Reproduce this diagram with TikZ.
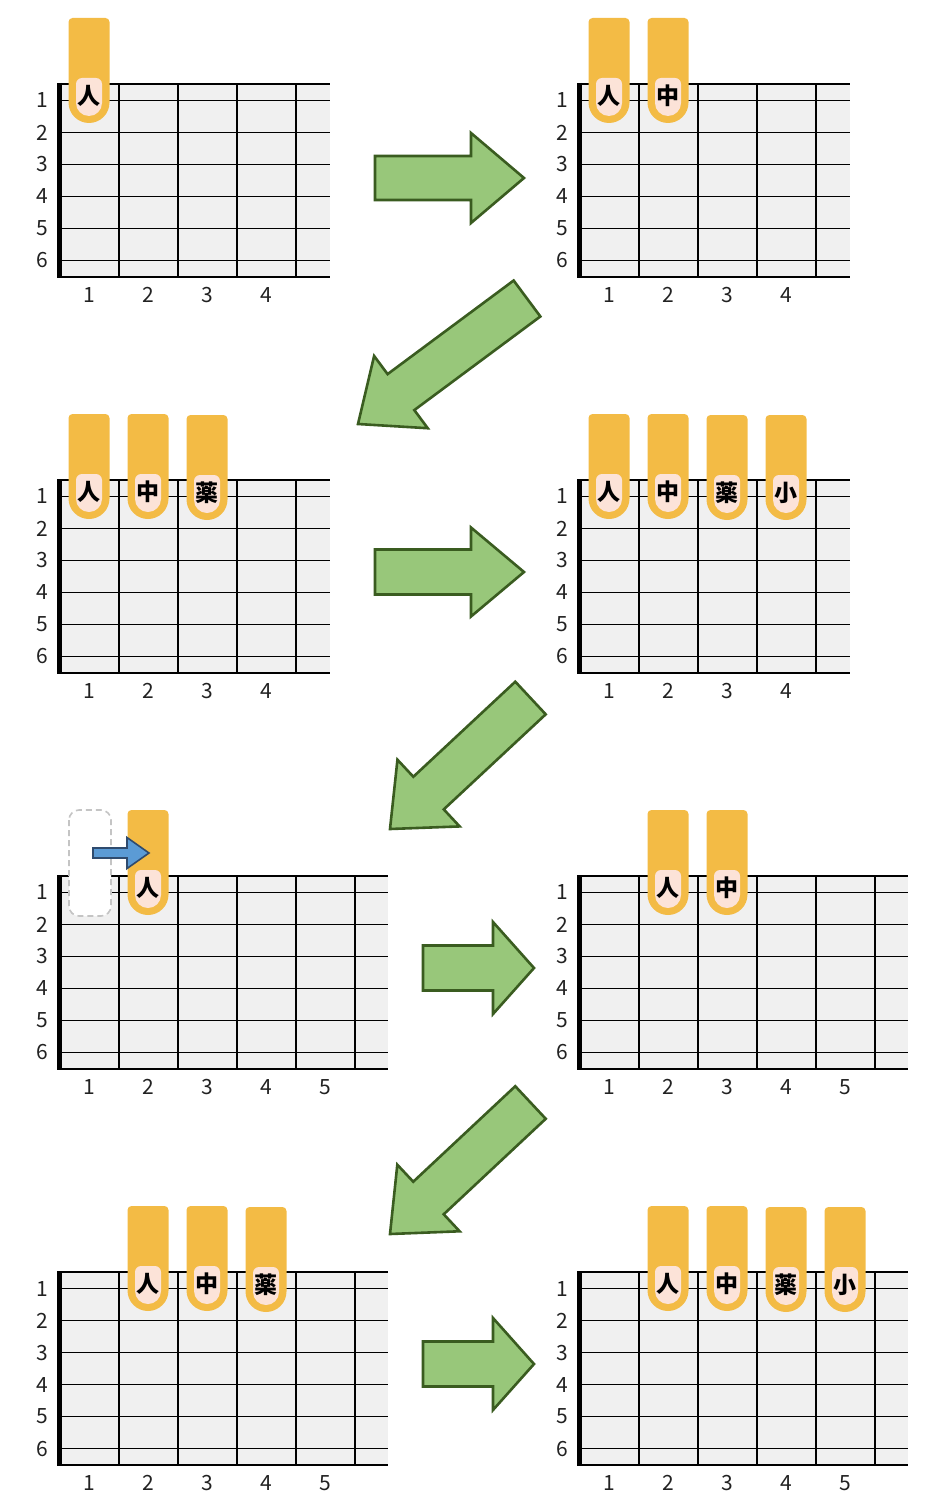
\documentclass[tikz,border=0pt]{standalone}
\usepackage{fontspec}
\newfontfamily\cjk{Noto Sans CJK JP}
\usetikzlibrary{calc}
\definecolor{gridbg}{HTML}{F0F0F0}
\definecolor{fingc}{HTML}{F3BB45}
\definecolor{nailc}{HTML}{FCE3D8}
\definecolor{arrfill}{HTML}{98C77A}
\definecolor{arrline}{HTML}{3A5C20}
\definecolor{bluef}{HTML}{5B9BD5}
\definecolor{bluel}{HTML}{2F4B6E}
\definecolor{ghostc}{HTML}{C4C4C4}
\definecolor{txtc}{HTML}{222222}
\tikzset{
  strline/.style={line width=1.3pt,black},
  thickstr/.style={line width=1.9pt,black},
  fretline/.style={line width=2pt,black},
  topline/.style={line width=2pt,black},
  botline/.style={line width=2.4pt,black},
  nutline/.style={line width=5pt,black},
  lbl/.style={inner sep=0pt,text=txtc,font=\cjk\fontsize{21}{21}\selectfont},
  fl/.style={inner sep=0pt,text=black,font=\cjk\bfseries\fontsize{23}{23}\selectfont},
  greenarr/.style={fill=arrfill,draw=arrline,line width=2.6pt,line join=miter},
  bluearr/.style={fill=bluef,draw=bluel,line width=1.6pt,line join=miter},
  ghostbox/.style={draw=ghostc,fill=white,line width=1.6pt,dash pattern=on 6pt off 4pt,rounded corners=10pt},
}
% #1 x0, #2 y0, #3 ncols, #4 right x, #5 name
\newcommand\fboard[5]{%
  \fill[gridbg] (#1,#2) rectangle (#4,#2+193);
  \foreach \k in {0,1,3,4,5}{\draw[strline] (#1,#2+16.5+32*\k) -- (#4,#2+16.5+32*\k);}
  \draw[thickstr] (#1,#2+80.5) -- (#4,#2+80.5);
  \foreach \i in {1,...,#3}{\draw[fretline] (#1+59*\i,#2) -- (#1+59*\i,#2+193);}
  \draw[topline] (#1,#2) -- (#4,#2);
  \draw[botline] (#1,#2+193) -- (#4,#2+193);
  \draw[nutline] (#1,#2-1) -- (#1,#2+194.2);
  \foreach \k in {1,...,6}{\node[lbl] (#5-s\k) at (#1-17.5,#2+16.5+32*\k-32) {\k};}
  \foreach \i in {1,...,#3}{\node[lbl] (#5-f\i) at (#1+59*\i-29.5,#2+211) {\i};}
}
% #1 cx, #2 y0, #3 char, #4 name
\newcommand\finger[4]{%
  \fill[fingc] (#1-20.5,#2+18.5) -- (#1-20.5,#2-62)
     arc[start angle=180,end angle=270,radius=4] -- (#1+16.5,#2-66)
     arc[start angle=270,end angle=360,radius=4] -- (#1+20.5,#2+18.5)
     arc[start angle=0,end angle=180,radius=20.5] -- cycle;
  \fill[nailc] (#1-13,#2+19) -- (#1-13,#2)
     arc[start angle=180,end angle=270,radius=6] -- (#1+7,#2-6)
     arc[start angle=270,end angle=360,radius=6] -- (#1+13,#2+19)
     arc[start angle=0,end angle=180,radius=13] -- cycle;
  \node[fl] (#4) at (#1,#2+12) {#3};
}
% #1 name, #2 tail, #3 tip, #4 shaft half, #5 head half, #6 head length, #7 style
\newcommand\blockarrow[7]{%
  \coordinate (#1-T) at (#2);
  \coordinate (#1-P) at (#3);
  \coordinate (#1-B) at ($(#1-P)!#6!(#1-T)$);
  \draw[#7] ($(#1-T)!#4!90:(#1-P)$) -- ($(#1-B)!#4!90:(#1-P)$) -- ($(#1-B)!#5!90:(#1-P)$)
     -- (#1-P) -- ($(#1-B)!#5!-90:(#1-P)$) -- ($(#1-B)!#4!-90:(#1-P)$)
     -- ($(#1-T)!#4!-90:(#1-P)$) -- cycle;
}
\begin{document}
\begin{tikzpicture}[x=1pt,y=-1pt]
\useasboundingbox (0,0) rectangle (924,1509);
% row 1
\fboard{59.5}{84}{4}{330}{b1}
\finger{89}{84}{人}{b1-n1}
\fboard{579.5}{84}{4}{850}{b2}
\finger{609}{84}{人}{b2-n1}
\finger{668}{84}{中}{b2-n2}
% row 2
\fboard{59.5}{480}{4}{330}{b3}
\finger{89}{480}{人}{b3-n1}
\finger{148}{480}{中}{b3-n2}
\finger{207}{481}{薬}{b3-n3}
\fboard{579.5}{480}{4}{850}{b4}
\finger{609}{480}{人}{b4-n1}
\finger{668}{480}{中}{b4-n2}
\finger{727}{481}{薬}{b4-n3}
\finger{786}{481}{小}{b4-n4}
% row 3
\fboard{59.5}{876}{5}{388}{b5}
\draw[ghostbox] (69,810) rectangle (111,916);
\finger{148}{876}{人}{b5-n1}
\blockarrow{ba}{93,853}{149,853}{5pt}{15.5pt}{22pt}{bluearr}
\fboard{579.5}{876}{5}{908}{b6}
\finger{668}{876}{人}{b6-n1}
\finger{727}{876}{中}{b6-n2}
% row 4
\fboard{59.5}{1272}{5}{388}{b7}
\finger{148}{1272}{人}{b7-n1}
\finger{207}{1272}{中}{b7-n2}
\finger{266}{1273}{薬}{b7-n3}
\fboard{579.5}{1272}{5}{908}{b8}
\finger{668}{1272}{人}{b8-n1}
\finger{727}{1272}{中}{b8-n2}
\finger{786}{1273}{薬}{b8-n3}
\finger{845}{1273}{小}{b8-n4}
% green arrows
\blockarrow{g1}{375,178}{524,178}{22pt}{45pt}{53pt}{greenarr}
\blockarrow{g2}{527,298.5}{358,424}{22.4pt}{45pt}{53.5pt}{greenarr}
\blockarrow{g3}{375,572}{524,572}{22.5pt}{44.5pt}{53pt}{greenarr}
\blockarrow{g4}{530.5,698}{390,829}{22.3pt}{45.6pt}{52.7pt}{greenarr}
\blockarrow{g5}{423,968}{534,968}{22.5pt}{46pt}{41pt}{greenarr}
\blockarrow{g6}{530.5,1102.5}{390,1234}{22.3pt}{45.6pt}{52.7pt}{greenarr}
\blockarrow{g7}{423,1364}{534,1364}{22.5pt}{46pt}{41pt}{greenarr}
\end{tikzpicture}
\end{document}
